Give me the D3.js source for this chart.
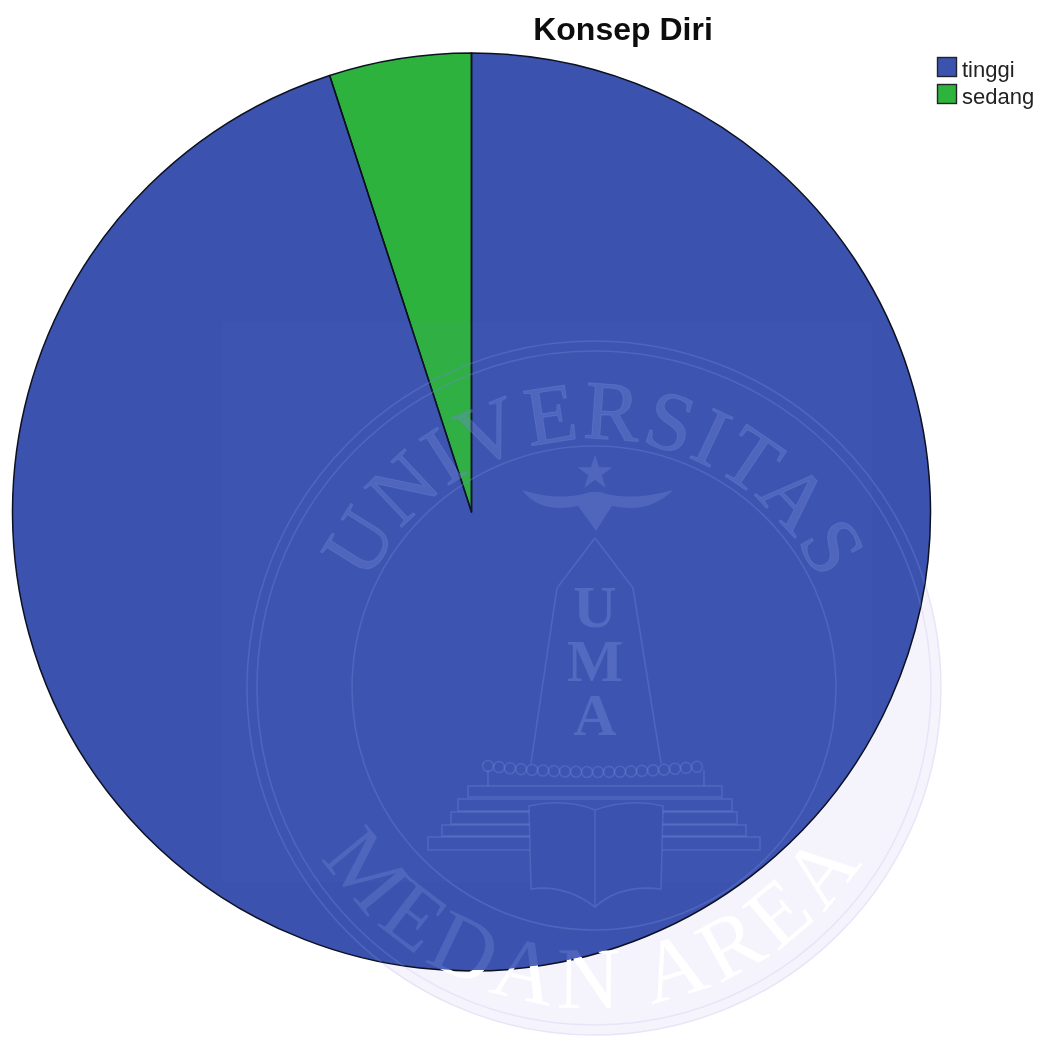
<!DOCTYPE html>
<html><head><meta charset="utf-8">
<script src="https://cdn.jsdelivr.net/npm/d3@7"></script>
<style>html,body{margin:0;padding:0;background:#fff}svg{display:block}</style>
</head><body><script>
const title = "Konsep Diri";
const categories = ["tinggi", "sedang"];
const values = [95, 5];
const colors = ["#3b53af", "#2db33d"];

const W = 1042, H = 1038, cx = 471.5, cy = 512, R = 459;
const svg = d3.select("body").append("svg").attr("width", W).attr("height", H).attr("viewBox", [0,0,W,H]);
svg.append("rect").attr("width", W).attr("height", H).attr("fill", "#fff");

const defs = svg.append("defs");
const soft = defs.append("filter").attr("id","soft").attr("x","-5%").attr("y","-5%").attr("width","110%").attr("height","110%");
soft.append("feGaussianBlur").attr("stdDeviation",0.55);
const wx = 594, wy = 688, rTop = 249, rBot = 320;
defs.append("path").attr("id","arcTop").attr("d", `M${wx-rTop},${wy} A${rTop},${rTop} 0 0 1 ${wx+rTop},${wy}`);
defs.append("path").attr("id","arcBot").attr("d", `M${wx-rBot},${wy} A${rBot},${rBot} 0 0 0 ${wx+rBot},${wy}`);
const serif = "'Liberation Serif',serif";
const ink = "#6f84d2", inkOp = 0.36;

// lettering that is pale blue on the pie and white on the page
const edge = defs.append("radialGradient").attr("id","edgeFill").attr("gradientUnits","userSpaceOnUse")
  .attr("cx",cx).attr("cy",cy).attr("r",R);
edge.append("stop").attr("offset",0.997).attr("stop-color",ink).attr("stop-opacity",inkOp);
edge.append("stop").attr("offset",0.999).attr("stop-color","#fff").attr("stop-opacity",1);

// seal as seen on the white page: a very pale band
const under = svg.append("g").attr("filter","url(#soft)");
under.append("path").attr("fill-rule","evenodd").attr("fill","#ebe8f9").attr("fill-opacity",0.5)
  .attr("d",`M${wx-347},${wy}a347,347 0 1 0 694,0a347,347 0 1 0 -694,0Z M${wx-242},${wy}a242,242 0 1 0 484,0a242,242 0 1 0 -484,0Z`);
[347,337].forEach(r => under.append("circle").attr("cx",wx).attr("cy",wy).attr("r",r)
  .attr("fill","none").attr("stroke","#e8e5f8").attr("stroke-width",1.5));

// pie: first category clockwise from 12 o'clock
const arcs = d3.pie().sort(null).value(d=>d)(values);
const arc = d3.arc().innerRadius(0).outerRadius(R);
const gp = svg.append("g").attr("transform",`translate(${cx},${cy})`);
gp.selectAll("path").data(arcs).join("path").attr("d",arc).attr("fill",(d,i)=>colors[i]);

// seal lines over the pie, only where the pie is
defs.append("clipPath").attr("id","pieClip").append("circle").attr("cx",cx).attr("cy",cy).attr("r",R);
const over = svg.append("g").attr("clip-path","url(#pieClip)");
over.append("rect").attr("x",222).attr("y",322).attr("width",650).attr("height",560).attr("fill","#6a7fd0").attr("fill-opacity",0.05);
const wm = over.append("g").attr("filter","url(#soft)");
const lines = wm.append("g").attr("fill","none").attr("stroke",ink).attr("stroke-opacity",inkOp).attr("stroke-width",1.6);
[347,337,242].forEach(r => lines.append("circle").attr("cx",wx).attr("cy",wy).attr("r",r));
lines.append("path").attr("d","M595,538 L633,588 L661,763 M595,538 L557,588 L531,763");
[[468,722,786,11],[458,732,799,12],[451,737,812,12],[442,746,825,11],[428,760,837,13]].forEach(([a,c,y,h]) =>
  lines.append("rect").attr("x",a).attr("y",y).attr("width",c-a).attr("height",h));
lines.append("path").attr("d","M488,770 V786 M704,770 V786");
lines.selectAll("circle.bead").data(d3.range(488,708,11)).join("circle").attr("class","bead")
  .attr("cx",d=>d).attr("cy",d=>772+Math.pow((d-596)/108,2)*-6).attr("r",5.5);
wm.append("path").attr("d","M529,806 Q565,798 595,810 Q630,798 663,806 L661,889 Q620,884 595,907 Q565,884 531,889 Z M595,810 V907")
  .attr("fill",colors[0]).attr("stroke",ink).attr("stroke-opacity",inkOp).attr("stroke-width",1.6);
wm.append("path").attr("d",d3.symbol(d3.symbolStar, 380)()).attr("transform","translate(595,473)").attr("fill",ink).attr("fill-opacity",inkOp);
wm.append("path").attr("d","M522,490 Q560,502 590,492 L600,492 Q630,502 673,490 Q650,514 612,506 L596,531 L578,506 Q540,514 522,490Z").attr("fill",ink).attr("fill-opacity",inkOp);
wm.selectAll("text.uma").data(["U","M","A"]).join("text").attr("class","uma").attr("x",595).attr("y",(d,i)=>627+i*54)
  .attr("text-anchor","middle").attr("font-family",serif).attr("font-weight","bold").attr("font-size",60)
  .attr("fill",ink).attr("fill-opacity",inkOp+0.1).text(d=>d);
wm.append("text").attr("font-family",serif).attr("font-size",84).attr("letter-spacing",2).attr("fill",ink).attr("fill-opacity",inkOp)
  .attr("stroke",ink).attr("stroke-opacity",inkOp).attr("text-anchor","middle")
  .append("textPath").attr("href","#arcTop").attr("startOffset","50%").text("UNIVERSITAS");

gp.append("g").selectAll("path").data(arcs).join("path").attr("d",arc)
  .attr("fill","none").attr("stroke","#0d1020").attr("stroke-width",1.5).attr("stroke-linejoin","round");

// MEDAN AREA crosses the pie edge
svg.append("text").attr("font-family",serif).attr("font-size",88).attr("letter-spacing",7)
  .attr("fill","url(#edgeFill)").attr("text-anchor","middle").attr("filter","url(#soft)")
  .append("textPath").attr("href","#arcBot").attr("startOffset","50%").text("MEDAN AREA");

// title
svg.append("text").attr("x",623).attr("y",40).attr("text-anchor","middle").attr("filter","url(#soft)")
  .attr("font-family","'Liberation Sans',Arial,sans-serif").attr("font-weight","bold").attr("font-size",32)
  .attr("fill","#111").text(title);

// legend
const ly = d3.scaleBand().domain(categories).range([54,108]);
const lg = svg.append("g").attr("filter","url(#soft)").selectAll("g").data(categories).join("g").attr("transform",d=>`translate(937,${ly(d)})`);
lg.append("rect").attr("x",0.5).attr("y",3.5).attr("width",19).attr("height",19).attr("fill",(d,i)=>colors[i]).attr("stroke","#20242e").attr("stroke-width",1.4);
lg.append("text").attr("x",25).attr("y",23).attr("font-family","'Liberation Sans',Arial,sans-serif").attr("font-size",22).attr("fill","#222").text(d=>d);
</script></body></html>
